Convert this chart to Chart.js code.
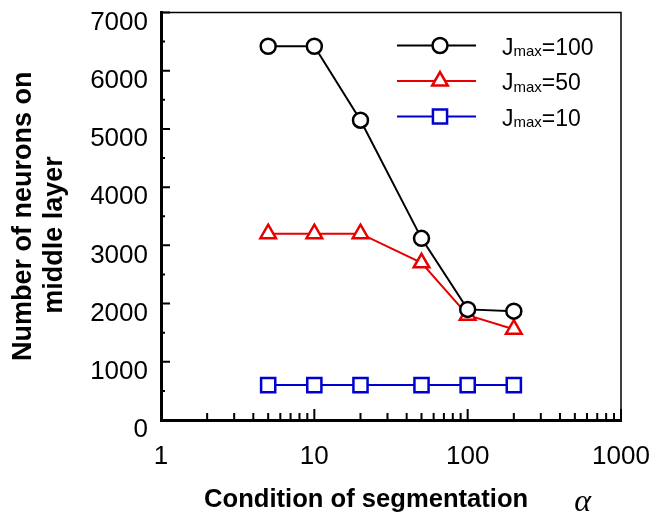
<!DOCTYPE html>
<html>
<head>
<meta charset="utf-8">
<script src="https://cdn.jsdelivr.net/npm/chart.js@4/dist/chart.umd.min.js"></script>
<style>
  body { margin: 0; background: #fff; }
  #wrap { width: 655px; height: 527px; }
</style>
</head>
<body>
<div id="wrap"><canvas id="neuronChart" width="655" height="527"></canvas></div>
<script>
// values
const alphaValues = [5, 10, 20, 50, 100, 200];
const neuronsJ100 = [6420, 6420, 5150, 3120, 1900, 1870];
const neuronsJ50 = [3200, 3200, 3200, 2700, 1800, 1560];
const neuronsJ10 = [600, 600, 600, 600, 600, 600];
const jmaxValues = [100, 50, 10];
const xTickLabels = [1, 10, 100, 1000];
const yMin = 0, yMax = 7000, yStep = 1000;

const fontFamily = "'Liberation Sans', Arial, Helvetica, sans-serif";
Chart.defaults.font.family = fontFamily;
Chart.defaults.color = '#000';

function toPoints(values) {
    return alphaValues.map((a, i) => ({ x: a, y: values[i] }));
}

const xTitle = 'Condition of segmentation       ';

// box, inward ticks, legend with subscripts and the alpha symbol
const figureExtras = {
    id: 'figureExtras',
    afterDraw(chart) {
        const { ctx, chartArea: a, scales: { x, y } } = chart;
        ctx.save();
        ctx.strokeStyle = '#000';

        // top and right frame lines
        ctx.lineWidth = 1.5;
        ctx.beginPath();
        ctx.moveTo(a.left, a.top);
        ctx.lineTo(a.right, a.top);
        ctx.lineTo(a.right, a.bottom);
        ctx.stroke();

        // y ticks pointing in
        ctx.lineWidth = 2;
        ctx.beginPath();
        for (let v = yMin; v <= yMax; v += yStep / 2) {
            const py = y.getPixelForValue(v);
            const len = v % yStep === 0 ? 9 : 4;
            ctx.moveTo(a.left, py);
            ctx.lineTo(a.left + len, py);
        }
        // x ticks pointing in (log minor ticks)
        for (let d = 1; d < 1000; d *= 10) {
            for (let m = 1; m <= 9; m++) {
                const px = x.getPixelForValue(d * m);
                const len = m === 1 ? 11 : 7;
                ctx.moveTo(px, a.bottom);
                ctx.lineTo(px, a.bottom - len);
            }
        }
        const pEnd = x.getPixelForValue(1000);
        ctx.moveTo(pEnd, a.bottom);
        ctx.lineTo(pEnd, a.bottom - 11);
        ctx.stroke();

        // legend
        chart.data.datasets.forEach((ds, i) => {
            const ly = a.top + 33 + i * 35.5;
            const x0 = a.left + 236, x1 = a.left + 315, xm = a.left + 279;
            ctx.strokeStyle = ds.borderColor;
            ctx.lineWidth = ds.borderWidth;
            ctx.beginPath();
            ctx.moveTo(x0, ly);
            ctx.lineTo(x1, ly);
            ctx.stroke();
            ctx.fillStyle = '#fff';
            ctx.strokeStyle = ds.pointBorderColor;
            ctx.lineWidth = ds.pointBorderWidth;
            Chart.helpers.drawPoint(ctx, {
                pointStyle: ds.pointStyle,
                radius: ds.pointRadius,
                rotation: 0,
                borderWidth: ds.pointBorderWidth
            }, xm, ly);

            ctx.fillStyle = '#000';
            ctx.textBaseline = 'alphabetic';
            ctx.textAlign = 'left';
            let tx = a.left + 341;
            const base = ly + 9;
            ctx.font = '23px ' + fontFamily;
            ctx.fillText('J', tx, base);
            tx += ctx.measureText('J').width;
            ctx.font = '15px ' + fontFamily;
            ctx.fillText('max', tx, base + 1.5);
            tx += ctx.measureText('max').width;
            ctx.font = '23px ' + fontFamily;
            ctx.fillText('=' + jmaxValues[i], tx, base);
        });

        // italic alpha after the x title
        ctx.font = 'bold 25.6px ' + fontFamily;
        const fullW = ctx.measureText(xTitle).width;
        const textW = ctx.measureText(xTitle.trim()).width;
        const start = (x.left + x.right) / 2 - fullW / 2;
        ctx.font = 'italic 32px "Liberation Serif", "Times New Roman", serif';
        ctx.fillStyle = '#000';
        ctx.textBaseline = 'alphabetic';
        ctx.fillText('\u03b1', start + textW + 46, 511);
        ctx.restore();
    }
};

const ctx = document.getElementById('neuronChart').getContext('2d');
const neuronChart = new Chart(ctx, {
    type: 'line',
    data: {
        datasets: [
            {
                label: 'Jmax=100',
                data: toPoints(neuronsJ100),
                borderColor: '#000000',
                borderWidth: 2,
                pointStyle: 'circle',
                pointRadius: 7.5,
                pointBorderWidth: 2.5,
                pointBorderColor: '#000000',
                pointBackgroundColor: '#ffffff'
            },
            {
                label: 'Jmax=50',
                data: toPoints(neuronsJ50),
                borderColor: '#e60000',
                borderWidth: 2,
                pointStyle: 'triangle',
                pointRadius: 9,
                pointBorderWidth: 2.5,
                pointBorderColor: '#e60000',
                pointBackgroundColor: '#ffffff'
            },
            {
                label: 'Jmax=10',
                data: toPoints(neuronsJ10),
                borderColor: '#0000d0',
                borderWidth: 2,
                pointStyle: 'rect',
                pointRadius: 10,
                pointBorderWidth: 2.5,
                pointBorderColor: '#0000d0',
                pointBackgroundColor: '#ffffff'
            }
        ]
    },
    options: {
        responsive: false,
        animation: false,
        layout: { padding: { top: 10, right: 34, left: 0, bottom: 0 } },
        plugins: {
            legend: { display: false },
            tooltip: { enabled: false }
        },
        scales: {
            x: {
                type: 'logarithmic',
                min: 1,
                max: 1000,
                grid: { display: false, drawTicks: false },
                border: { display: true, width: 3, color: '#000' },
                ticks: {
                    autoSkip: false,
                    maxRotation: 0,
                    padding: 21,
                    font: { size: 26 },
                    callback: (v) => xTickLabels.includes(v) ? String(v) : ''
                },
                title: {
                    display: true,
                    text: xTitle,
                    font: { size: 25.6, weight: 'bold' },
                    padding: { top: 0, bottom: 12 }
                },
                afterFit: (scale) => {
                    scale.height = 107;
                    scale.paddingLeft = 0;
                    scale.paddingRight = 0;
                }
            },
            y: {
                min: yMin,
                max: yMax,
                grid: { display: false, drawTicks: false },
                border: { display: true, width: 3, color: '#000' },
                ticks: {
                    stepSize: yStep,
                    padding: 13,
                    labelOffset: 10,
                    font: { size: 26 },
                    callback: (v) => String(v)
                },
                title: {
                    display: true,
                    text: ['Number of neurons on', 'middle layer     '],
                    font: { size: 27, weight: 'bold', lineHeight: 1.15 },
                    padding: { top: 8, bottom: 0 }
                },
                afterFit: (scale) => {
                    scale.width = 161;
                    scale.paddingTop = 0;
                    scale.paddingBottom = 0;
                }
            }
        }
    },
    plugins: [figureExtras]
});
</script>
</body>
</html>
